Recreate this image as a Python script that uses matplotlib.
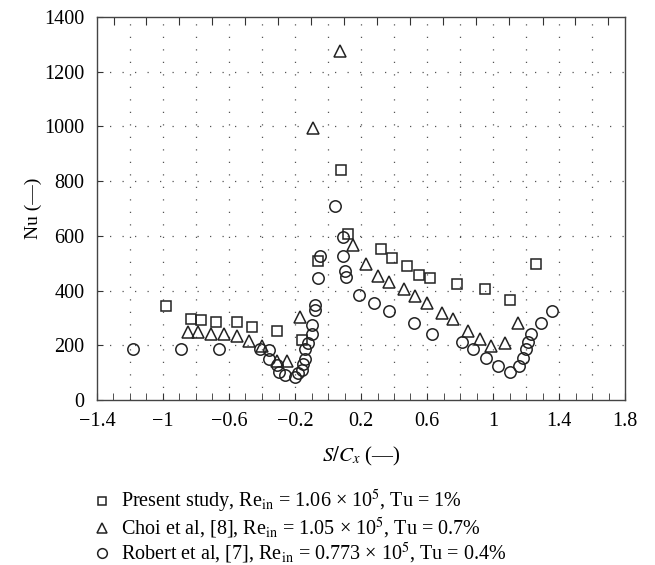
import numpy as np
import matplotlib
matplotlib.use("Agg")
import matplotlib.pyplot as plt
from matplotlib.ticker import MultipleLocator, FixedLocator

plt.rcParams['font.family'] = ['Liberation Serif', 'DejaVu Serif']
plt.rcParams['mathtext.fontset'] = 'stix'

# Present study (squares)
ps_x = [-0.98, -0.83, -0.77, -0.68, -0.55, -0.46, -0.31, -0.16, -0.06, 0.08, 0.12,
        0.32, 0.39, 0.48, 0.55, 0.62, 0.78, 0.95, 1.10, 1.26]
ps_y = [343, 295, 291, 286, 284, 268, 254, 218, 509, 840, 606,
        553, 519, 488, 456, 446, 424, 404, 365, 497]

# Choi et al (triangles)
ch_x = [-0.85, -0.79, -0.71, -0.63, -0.55, -0.48, -0.40, -0.31, -0.25, -0.17,
        -0.09, 0.075, 0.15, 0.23, 0.30, 0.37, 0.46, 0.53, 0.60, 0.69, 0.76,
        0.85, 0.92, 0.99, 1.07, 1.15]
ch_y = [250, 250, 242, 242, 234, 216, 198, 143, 143, 303,
        995, 1274, 567, 497, 455, 430, 406, 379, 353, 319, 297,
        252, 222, 198, 210, 280]

# Robert et al (circles)
rb_x = [-1.18, -0.89, -0.66, -0.41, -0.36, -0.36, -0.31, -0.30, -0.26, -0.20,
        -0.18, -0.16, -0.15, -0.14, -0.14, -0.12, -0.10, -0.10, -0.08, -0.08,
        -0.06, -0.05, 0.04, 0.09, 0.09, 0.10, 0.11,
        0.19, 0.28, 0.37, 0.52, 0.63, 0.81, 0.88, 0.96, 1.03, 1.10,
        1.16, 1.18, 1.20, 1.21, 1.23, 1.29, 1.36]
rb_y = [185, 185, 185, 185, 183, 149, 127, 101, 92, 85,
        97, 109, 131, 149, 185, 209, 240, 274, 328, 347,
        446, 528, 709, 594, 528, 473, 448,
        385, 355, 325, 282, 240, 212, 185, 152, 125, 101,
        125, 152, 185, 212, 240, 282, 325]

labels = [
    r'Present study, Re$_{\rm in}$ = 1.06 × 10$^{5}$, Tu = 1%',
    r'Choi et al, [8], Re$_{\rm in}$ = 1.05 × 10$^{5}$, Tu = 0.7%',
    r'Robert et al, [7], Re$_{\rm in}$ = 0.773 × 10$^{5}$, Tu = 0.4%',
]

W, H = 655, 565
fig = plt.figure(figsize=(W / 100, H / 100), dpi=100)
ax = fig.add_axes([97 / W, 1 - 400 / H, 528 / W, 383 / H])

mk = dict(linestyle='none', markerfacecolor='none', markeredgecolor='#222222',
          markeredgewidth=1.1, zorder=3)
h1, = ax.plot(ps_x, ps_y, marker='s', markersize=6.7, **mk)
h2, = ax.plot(ch_x, ch_y, marker='^', markersize=8, **mk)
h3, = ax.plot(rb_x, rb_y, marker='o', markersize=8.2, **mk)

ax.set_xlim(-1.4, 1.8)
ax.set_ylim(0, 1400)

# dotted grid
for gx in np.arange(-1.2, 1.7, 0.2):
    ax.axvline(gx, color='#555555', lw=0.9, ls=(0, (1, 9)), zorder=0)
for gy in np.arange(200, 1400, 200):
    ax.axhline(gy, color='#555555', lw=0.9, ls=(0, (1, 9)), zorder=0)

xt = np.arange(-1.4, 1.81, 0.4)
ax.xaxis.set_major_locator(FixedLocator(xt))
ax.set_xticklabels([('%g' % round(v, 1)).replace('-', '\u2212') for v in xt])
ax.xaxis.set_minor_locator(MultipleLocator(0.1))
ax.yaxis.set_major_locator(MultipleLocator(200))
ax.tick_params(axis='both', which='both', direction='in', labelsize=14.5,
               color='#333333')
ax.tick_params(axis='x', which='major', length=5, pad=9)
ax.tick_params(axis='x', which='minor', length=5)
ax.tick_params(axis='y', which='major', length=4, pad=9)

top = ax.secondary_xaxis('top')
top.set_xticks(np.arange(-1.3, 1.8, 0.2))
top.set_xticklabels([])
top.tick_params(direction='in', length=6, color='#333333')
top.spines['top'].set_visible(False)

for s in ax.spines.values():
    s.set_color('#444444')
    s.set_linewidth(1.0)

ax.set_xlabel(r'$S/C_x$ (—)', fontsize=15, va='center')
ax.xaxis.set_label_coords(0.5, -56 / 383)
ax.set_ylabel('Nu (—)', fontsize=14, va='center')
ax.yaxis.set_label_coords(-64 / 528, 0.5)

fig.legend([h1, h2, h3], labels, loc='upper left',
           bbox_to_anchor=(93 / W, 1 - 488 / H), frameon=False,
           fontsize=14.5, handlelength=0.9, handletextpad=0.5,
           labelspacing=0.02, borderpad=0.0, borderaxespad=0.0,
           markerscale=0.85)

fig.savefig('out.png', dpi=100)
